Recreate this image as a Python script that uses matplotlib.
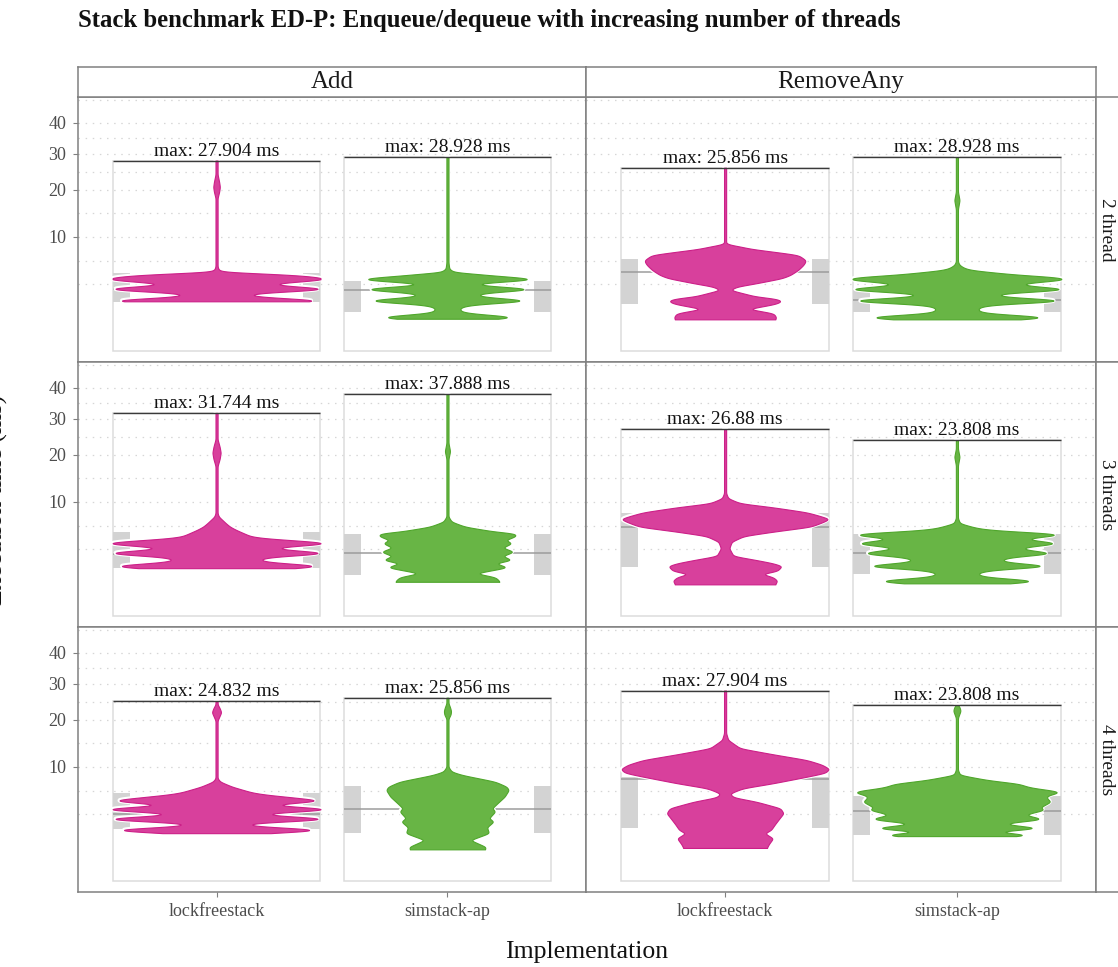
import numpy as np
import matplotlib
matplotlib.use("Agg")
import matplotlib.pyplot as plt
from matplotlib.patches import Rectangle

plt.rcParams['font.family'] = ['Liberation Serif', 'DejaVu Serif']

# ---------------- data ----------------
TITLE = "Stack benchmark ED-P: Enqueue/dequeue with increasing number of threads"
OPS = ["Add", "RemoveAny"]
THREADS = ["2 thread", "3 threads", "4 threads"]
IMPLS = ["lockfreestack", "simstack-ap"]
Y_TICKS = [10, 20, 30, 40]
Y_MINOR = [3.43, 6.29, 14.57, 24.75, 34.82, 48.5]

# max / min latency (ms) per thread count (2, 3, 4)
LF_ADD_MAX = [27.904, 31.744, 24.832]
SA_ADD_MAX = [28.928, 37.888, 25.856]
LF_REM_MAX = [25.856, 26.88, 27.904]
SA_REM_MAX = [28.928, 23.808, 23.808]
LF_ADD_MIN = [1.9, 1.76, 1.76]
SA_ADD_MIN = [0.80, 0.90, 0.77]
LF_REM_MIN = [0.77, 0.77, 0.84]
SA_REM_MIN = [0.77, 0.82, 1.55]

# (q1, median, q3) in ms
LF_ADD_Q = [(1.87, 3.0, 4.65), (1.76, 3.0, 5.37), (2.06, 3.5, 6.0)]
SA_ADD_Q = [(1.19, 2.83, 3.77), (1.29, 3.08, 5.17), (1.76, 3.99, 6.98)]
LF_REM_Q = [(1.70, 4.77, 6.45), (1.82, 6.13, 8.11), (2.16, 8.0, 8.32)]
SA_REM_Q = [(1.19, 2.0, 2.9), (1.36, 3.08, 5.13), (1.64, 3.8, 5.5)]

# violin outline readings: (latency ms, relative half width) ; TIP = narrow density spikes
ENV_LF_ADD_2 = [(2.47, 0.36), (3.42, 0.60), (4.33, 0.90), (4.53, 0.64), (4.68, 0.33), (4.80, 0.07),
                (5.05, 0.022), (5.5, 0.01), (18.0, 0.01), (19.5, 0.025), (20.7, 0.032), (22.0, 0.025),
                (24.0, 0.01), (27.904, 0.01)]
TIP_LF_ADD_2 = [(1.95, 0.91), (2.96, 0.97), (3.96, 1.0)]
ENV_SA_ADD_2 = [(1.40, 0.125), (2.47, 0.33), (3.42, 0.32), (4.33, 0.53), (4.62, 0.27), (4.74, 0.077),
                (5.2, 0.018), (6.0, 0.01), (28.928, 0.01)]
TIP_SA_ADD_2 = [(0.88, 0.57), (1.95, 0.69), (2.95, 0.73), (3.96, 0.76)]
ENV_LF_REM_2 = [(0.77, 0.48), (0.87, 0.49), (1.09, 0.465), (1.36, 0.22), (1.51, 0.34), (1.70, 0.48),
                (1.87, 0.535), (2.00, 0.53), (2.14, 0.46), (2.27, 0.30), (2.63, 0.144), (2.86, 0.05),
                (3.18, 0.11), (3.53, 0.30), (3.88, 0.46), (4.07, 0.545), (4.44, 0.625), (5.05, 0.70),
                (5.69, 0.75), (6.13, 0.77), (6.37, 0.77), (7.09, 0.70), (7.59, 0.46), (8.02, 0.25),
                (8.52, 0.11), (8.65, 0.05), (8.92, 0.01), (25.856, 0.01)]
TIP_LF_REM_2 = []
ENV_SA_REM_2 = [(1.40, 0.21), (2.50, 0.45), (3.35, 0.675), (4.25, 0.90), (4.64, 0.45), (5.05, 0.13),
                (5.30, 0.07), (5.69, 0.025), (6.13, 0.01), (15.5, 0.01), (17.5, 0.025), (19.5, 0.01),
                (28.928, 0.01)]
TIP_SA_REM_2 = [(0.87, 0.77), (1.95, 0.925), (2.93, 0.97), (3.96, 1.0)]

ENV_LF_ADD_3 = [(2.41, 0.44), (3.42, 0.67), (4.44, 0.73), (4.84, 0.35), (5.69, 0.19), (6.13, 0.13),
                (6.61, 0.09), (7.59, 0.022), (8.11, 0.01), (17.3, 0.01), (19.0, 0.03), (20.5, 0.04),
                (22.0, 0.03), (24.0, 0.01), (31.744, 0.01)]
TIP_LF_ADD_3 = [(1.92, 0.91), (3.05, 0.97), (4.07, 1.0)]
ENV_SA_ADD_3 = [(0.90, 0.50), (0.94, 0.50), (1.16, 0.46), (1.40, 0.27), (1.82, 0.58), (2.14, 0.46),
                (2.41, 0.62), (2.77, 0.53), (3.18, 0.64), (3.59, 0.53), (4.07, 0.62), (4.44, 0.56),
                (4.92, 0.66), (5.26, 0.65), (5.47, 0.46), (6.13, 0.17), (6.84, 0.04), (7.59, 0.01),
                (19.0, 0.01), (20.9, 0.025), (23.0, 0.01), (37.888, 0.01)]
TIP_SA_ADD_3 = []
ENV_LF_REM_3 = [(0.77, 0.48), (0.96, 0.50), (1.16, 0.46), (1.36, 0.35), (1.56, 0.50), (1.92, 0.545),
                (2.14, 0.46), (2.41, 0.30), (2.77, 0.08), (3.53, 0.04), (4.25, 0.064), (4.92, 0.18),
                (5.47, 0.46), (6.13, 0.82), (6.8, 0.94), (7.24, 1.0), (7.7, 0.91), (8.27, 0.785),
                (9.09, 0.46), (9.77, 0.144), (10.66, 0.03), (11.6, 0.01), (26.88, 0.01)]
TIP_LF_REM_3 = []
ENV_SA_REM_3 = [(1.40, 0.21), (2.41, 0.45), (3.53, 0.66), (4.64, 0.74), (5.47, 0.61), (5.78, 0.29),
                (6.61, 0.03), (7.35, 0.01), (17.5, 0.01), (19.5, 0.025), (21.5, 0.01), (23.808, 0.01)]
TIP_SA_REM_3 = [(0.94, 0.68), (1.92, 0.79), (3.03, 0.85), (4.07, 0.91), (5.13, 0.92)]

ENV_LF_ADD_4 = [(2.50, 0.35), (3.45, 0.54), (4.44, 0.63), (5.47, 0.70), (6.0, 0.35), (6.84, 0.15),
                (7.59, 0.035), (8.11, 0.01), (19.8, 0.01), (21.0, 0.03), (21.9, 0.045), (23.0, 0.03),
                (24.0, 0.01), (24.832, 0.01)]
TIP_LF_ADD_4 = [(2.0, 0.89), (2.96, 0.97), (3.96, 1.0), (4.96, 0.93)]
ENV_SA_ADD_4 = [(0.77, 0.36), (0.89, 0.37), (1.29, 0.22), (1.76, 0.40), (2.22, 0.38), (2.72, 0.445),
                (3.03, 0.40), (3.72, 0.46), (4.07, 0.43), (4.64, 0.48), (5.47, 0.55), (6.37, 0.59),
                (6.84, 0.57), (7.59, 0.46), (8.65, 0.14), (9.2, 0.04), (10.0, 0.01), (20.3, 0.01),
                (21.3, 0.03), (22.2, 0.035), (23.2, 0.025), (24.3, 0.01), (25.856, 0.01)]
TIP_SA_ADD_4 = []
ENV_LF_REM_4 = [(0.84, 0.40), (1.05, 0.42), (1.4, 0.46), (1.75, 0.38), (2.0, 0.44), (2.5, 0.48),
                (3.0, 0.52), (3.53, 0.56), (4.07, 0.53), (4.84, 0.30), (5.39, 0.08), (5.82, 0.048),
                (6.0, 0.064), (6.61, 0.17), (7.35, 0.46), (8.37, 0.785), (9.0, 0.96), (9.65, 1.0),
                (10.4, 0.93), (11.26, 0.785), (12.35, 0.46), (13.55, 0.144), (15.3, 0.03),
                (16.8, 0.01), (27.904, 0.01)]
TIP_LF_REM_4 = []
ENV_SA_REM_4 = [(1.85, 0.45), (2.47, 0.52), (3.35, 0.68), (3.88, 0.84), (4.17, 0.80), (4.84, 0.90),
                (5.47, 0.87), (7.24, 0.61), (7.85, 0.29), (8.65, 0.03), (9.48, 0.01), (20.5, 0.01),
                (22.3, 0.035), (23.3, 0.025), (23.808, 0.01)]
TIP_SA_REM_4 = [(1.62, 0.62), (2.14, 0.71), (2.93, 0.77), (6.13, 0.95)]

# ---------------- lookup tables ----------------
MAXS = {("Add", 0): LF_ADD_MAX, ("Add", 1): SA_ADD_MAX, ("RemoveAny", 0): LF_REM_MAX, ("RemoveAny", 1): SA_REM_MAX}
MINS = {("Add", 0): LF_ADD_MIN, ("Add", 1): SA_ADD_MIN, ("RemoveAny", 0): LF_REM_MIN, ("RemoveAny", 1): SA_REM_MIN}
QS = {("Add", 0): LF_ADD_Q, ("Add", 1): SA_ADD_Q, ("RemoveAny", 0): LF_REM_Q, ("RemoveAny", 1): SA_REM_Q}
ENVS = {("Add", 0): [ENV_LF_ADD_2, ENV_LF_ADD_3, ENV_LF_ADD_4],
        ("Add", 1): [ENV_SA_ADD_2, ENV_SA_ADD_3, ENV_SA_ADD_4],
        ("RemoveAny", 0): [ENV_LF_REM_2, ENV_LF_REM_3, ENV_LF_REM_4],
        ("RemoveAny", 1): [ENV_SA_REM_2, ENV_SA_REM_3, ENV_SA_REM_4]}
TIPS = {("Add", 0): [TIP_LF_ADD_2, TIP_LF_ADD_3, TIP_LF_ADD_4],
        ("Add", 1): [TIP_SA_ADD_2, TIP_SA_ADD_3, TIP_SA_ADD_4],
        ("RemoveAny", 0): [TIP_LF_REM_2, TIP_LF_REM_3, TIP_LF_REM_4],
        ("RemoveAny", 1): [TIP_SA_REM_2, TIP_SA_REM_3, TIP_SA_REM_4]}

FILL = ["#D8409C", "#68B545"]
EDGE = ["#CC1F88", "#4FA62B"]

SPIKE_SIGMA = 0.068   # in sqrt(ms) units
ENV_SMOOTH = 0.028


def fwd(v):
    v = np.asarray(v, dtype=float)
    return np.sign(v) * np.sqrt(np.abs(v))


def inv(s):
    s = np.asarray(s, dtype=float)
    return np.sign(s) * s ** 2


def violin_profile(lo, hi, env, tips, n=2400):
    s = np.linspace(np.sqrt(lo), np.sqrt(hi), n)
    env = sorted(env)
    se = np.sqrt([e[0] for e in env])
    we = np.array([e[1] for e in env])
    st = np.sqrt([t[0] for t in tips]) if tips else np.zeros(0)
    wt = np.array([t[1] for t in tips]) if tips else np.zeros(0)
    ne, nt = len(se), len(st)
    p = np.concatenate([se, st])
    target = np.concatenate([we, wt])
    # linear system: envelope nodes (hat functions) + gaussian spikes
    A = np.zeros((ne + nt, ne + nt))
    for j in range(ne):
        u = np.zeros(ne)
        u[j] = 1.0
        A[:, j] = np.interp(p, se, u)
    for k, t in enumerate(st):
        A[:, ne + k] = np.exp(-0.5 * ((p - t) / SPIKE_SIGMA) ** 2)
    coef = np.linalg.lstsq(A, target, rcond=None)[0]
    env_curve = np.interp(s, se, coef[:ne])
    ds = s[1] - s[0]
    kk = int(np.ceil(4 * ENV_SMOOTH / ds))
    ker = np.exp(-0.5 * (np.arange(-kk, kk + 1) * ds / ENV_SMOOTH) ** 2)
    ker /= ker.sum()
    env_curve = np.convolve(np.pad(env_curve, kk, mode='edge'), ker, mode='valid')
    w = env_curve.copy()
    for k, t in enumerate(st):
        w += coef[ne + k] * np.exp(-0.5 * ((s - t) / SPIKE_SIGMA) ** 2)
    w = np.clip(w, 0.006, 1.0)
    return s ** 2, w


# ---------------- figure ----------------
W, H = 1118, 967
fig = plt.figure(figsize=(W / 100, H / 100), dpi=100)


def fx(px):
    return px / W


def fy(py):
    return 1 - py / H


COLS = [(78, 586), (586, 1096)]
ROWS = [(97, 362), (362, 627), (627, 892)]
BORDER = "#808080"
HALF = 0.45
STRIP_W = 0.075

for r in range(3):
    for ci, op in enumerate(OPS):
        x0, x1 = COLS[ci]
        y0, y1 = ROWS[r]
        ax = fig.add_axes([fx(x0), fy(y1), (x1 - x0) / W, (y1 - y0) / H])
        ax.set_yscale('function', functions=(fwd, inv))
        ax.set_xlim(-0.6, 1.6)
        ax.set_ylim(-0.0933, 49.64)
        ax.set_yticks(Y_TICKS)
        ax.set_yticks(Y_MINOR, minor=True)
        ax.grid(which='both', axis='y', color='#D6D6D6', linestyle=(0, (1.2, 4.5)), lw=0.9, zorder=0)
        ax.set_axisbelow(True)
        ax.tick_params(which='minor', length=0, labelleft=False)
        ax.tick_params(axis='y', which='major', left=(ci == 0), labelleft=(ci == 0), length=3.6, width=0.8,
                       color=BORDER, labelcolor='#4D4D4D', labelsize=13, pad=5)
        ax.set_xticks([0, 1])
        ax.set_xticklabels(IMPLS)
        ax.tick_params(axis='x', bottom=(r == 2), labelbottom=(r == 2), length=3.6, width=0.8,
                       color=BORDER, labelcolor='#4D4D4D', labelsize=13, pad=4)
        for sp in ax.spines.values():
            sp.set_color(BORDER)
            sp.set_linewidth(1.1)

        for ii in range(2):
            key = (op, ii)
            c = ii
            mx = MAXS[key][r]
            lo = MINS[key][r]
            q1, med, q3 = QS[key][r]
            # range rectangle
            ax.add_patch(Rectangle((c - HALF, 0), 2 * HALF, mx, fill=False, edgecolor='#DCDCDC', lw=1.1, zorder=1))
            # box strips and median
            ax.add_patch(Rectangle((c - HALF, q1), STRIP_W, q3 - q1, facecolor='#D3D3D3', edgecolor='none', zorder=2))
            ax.add_patch(Rectangle((c + HALF - STRIP_W, q1), STRIP_W, q3 - q1, facecolor='#D3D3D3', edgecolor='none', zorder=2))
            ax.plot([c - HALF, c + HALF], [med, med], color='#9C9C9C', lw=1.1, zorder=2.2, solid_capstyle='butt')
            # violin
            yv, wv = violin_profile(lo, mx, ENVS[key][r], TIPS[key][r])
            xl = c - HALF * wv
            xr = c + HALF * wv
            ax.fill_betweenx(yv, xl, xr, facecolor='none', edgecolor='white', lw=3.0, zorder=3)
            ax.fill_betweenx(yv, xl, xr, facecolor=FILL[ii], edgecolor=EDGE[ii], lw=0.8, zorder=4)
            # max line and label
            ax.plot([c - HALF, c + HALF], [mx, mx], color='#3A3A3A', lw=1.0, zorder=5, solid_capstyle='butt')
            ax.annotate(f"max: {mx:g} ms", (c, mx), xytext=(0, 3.6), textcoords='offset points',
                        ha='center', va='baseline', fontsize=14, color='#111111', zorder=6)

# top strips
for ci, op in enumerate(OPS):
    x0, x1 = COLS[ci]
    sax = fig.add_axes([fx(x0), fy(97), (x1 - x0) / W, 30 / H])
    sax.set_xticks([])
    sax.set_yticks([])
    sax.set_facecolor('white')
    for sp in sax.spines.values():
        sp.set_color(BORDER)
        sp.set_linewidth(1.1)
    sax.text(0.5, 0.5, op, transform=sax.transAxes, ha='center', va='center', fontsize=18, color='#1A1A1A')

# right strips
for r in range(3):
    y0, y1 = ROWS[r]
    sax = fig.add_axes([fx(1096), fy(y1), 44 / W, (y1 - y0) / H])
    sax.set_xticks([])
    sax.set_yticks([])
    for sp in sax.spines.values():
        sp.set_color(BORDER)
        sp.set_linewidth(1.1)
    fig.text(fx(1107), fy((y0 + y1) / 2), THREADS[r], rotation=270, ha='center', va='center',
             fontsize=14, color='#1A1A1A')

fig.text(fx(78), fy(27), TITLE, ha='left', va='baseline', fontsize=17.8, fontweight='bold', color='#111111')
fig.text(fx(587), fy(958), "Implementation", ha='center', va='baseline', fontsize=18.5, color='#111111')
fig.text(fx(8), fy(500), "Execution time (ms)", rotation=90, ha='right', va='center', fontsize=18.5,
         color='#111111')

fig.savefig("out.png", dpi=100)
